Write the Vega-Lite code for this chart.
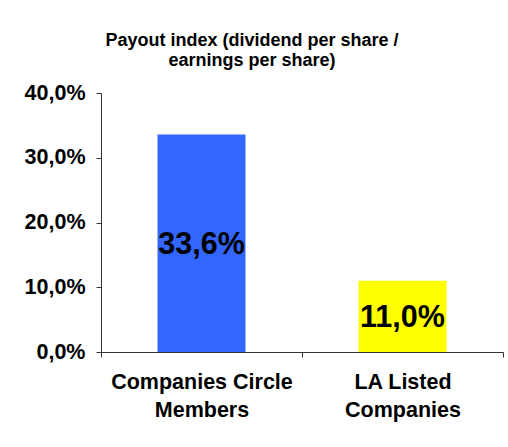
{
  "$schema": "https://vega.github.io/schema/vega-lite/v6.json",
  "width": 402,
  "height": 259,
  "autosize": {"type": "none"},
  "padding": {"left": 101, "top": 93, "right": 5, "bottom": 95},
  "background": "white",
  "config": {"view": {"stroke": null}, "font": "Liberation Sans"},
  "title": {
    "text": ["Payout index (dividend per share /", "earnings per share)"],
    "font": "Liberation Sans",
    "fontSize": 18,
    "fontWeight": "bold",
    "color": "black",
    "anchor": "middle",
    "dx": -50,
    "offset": 12,
    "lineHeight": 20
  },
  "data": {
    "values": [
      {"category": "Companies Circle Members", "value": 0.336, "label": "33,6%"},
      {"category": "LA Listed Companies", "value": 0.11, "label": "11,0%"}
    ]
  },
  "encoding": {
    "x": {
      "field": "category",
      "type": "nominal",
      "sort": null,
      "scale": {"paddingInner": 0, "paddingOuter": 0},
      "axis": {
        "title": null,
        "labelAngle": 0,
        "tickBand": "extent",
        "tickSize": 5,
        "domainColor": "#333333",
        "tickColor": "#333333",
        "labelColor": "black",
        "labelFont": "Liberation Sans",
        "labelFontSize": 21.5,
        "labelFontWeight": "bold",
        "labelPadding": 14,
        "labelLineHeight": 28,
        "labelLimit": 0,
        "labelExpr": "datum.value == 'Companies Circle Members' ? ['Companies Circle', 'Members'] : datum.value == 'LA Listed Companies' ? ['LA Listed', 'Companies'] : ''"
      }
    }
  },
  "layer": [
    {
      "mark": {"type": "bar", "width": 88},
      "encoding": {
        "y": {
          "field": "value",
          "type": "quantitative",
          "scale": {"domain": [0, 0.4], "nice": false},
          "axis": {
            "title": null,
            "grid": false,
            "values": [0, 0.1, 0.2, 0.3, 0.4],
            "tickSize": 5,
            "domainColor": "#333333",
            "tickColor": "#333333",
            "labelColor": "black",
            "labelFont": "Liberation Sans",
            "labelFontSize": 21.5,
            "labelFontWeight": "bold",
            "labelPadding": 11,
            "labelExpr": "replace(format(datum.value, '.1%'), '.', ',')"
          }
        },
        "color": {
          "field": "category",
          "type": "nominal",
          "sort": null,
          "scale": {"range": ["#3366FF", "#FFFF00"]},
          "legend": null
        }
      }
    },
    {
      "mark": {"type": "text", "font": "Liberation Sans", "fontSize": 30.5, "fontWeight": "bold", "baseline": "middle", "color": "black", "dy": 2},
      "encoding": {
        "y": {
          "field": "value",
          "type": "quantitative",
          "scale": {"domain": [0, 0.8], "nice": false},
          "axis": null
        },
        "text": {"field": "label"}
      }
    }
  ],
  "resolve": {"scale": {"y": "independent"}}
}
